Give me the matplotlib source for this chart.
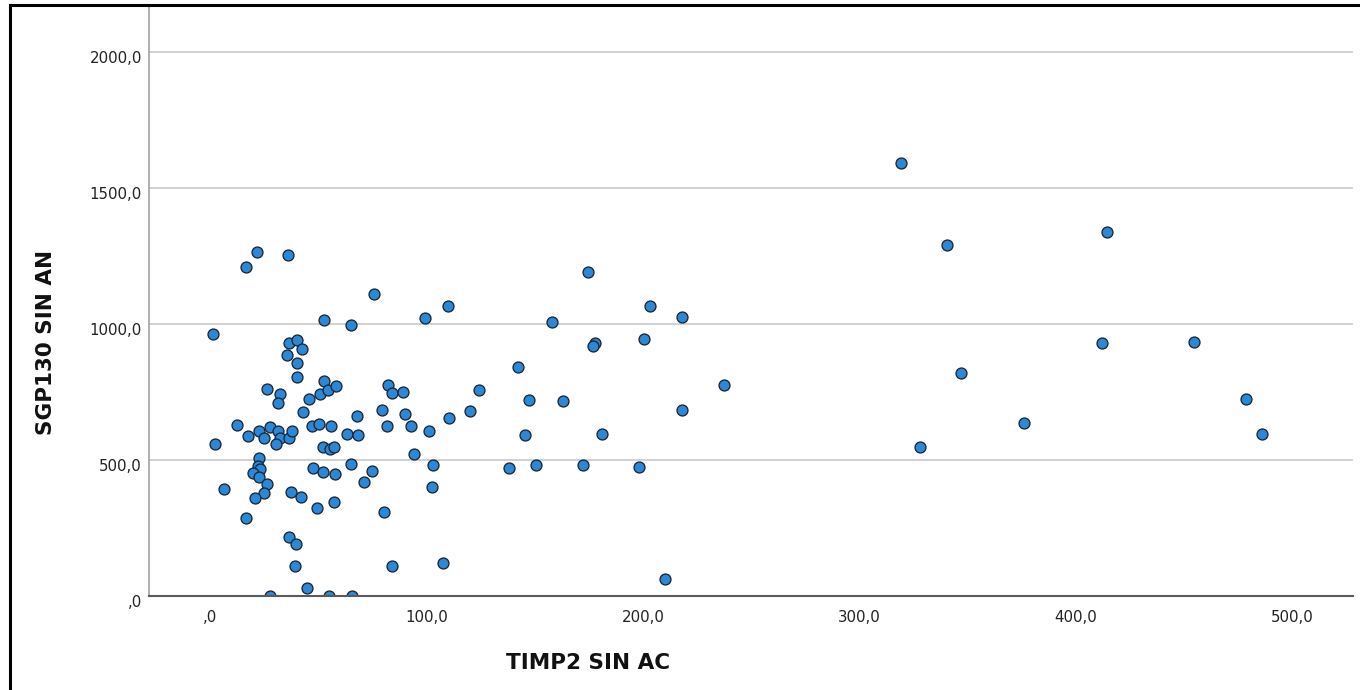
import matplotlib
matplotlib.use("Agg")
import matplotlib.pyplot as plt
import matplotlib.transforms as mtransforms
from matplotlib.lines import Line2D

# ---- data ----
timp2 = [16.5, 21.6, 35.9, 52.8, 1.5, 36.6, 40.0, 42.5, 35.7, 40.3,
         40.2, 52.8, 26.2, 32.3, 31.3, 45.6, 50.8, 42.8, 54.6, 58.1,
         12.6, 17.4, 22.6, 24.9, 27.7, 31.6, 32.3, 30.6, 36.3, 37.9,
         46.9, 50.5, 2.2, 52.2, 55.3, 57.1, 55.8,
         22.8, 22.2, 22.9, 20.0, 22.5, 26.2, 24.9, 20.6, 6.5, 37.6,
         42.1, 49.4, 16.6, 36.7, 39.7, 39.4, 44.6, 27.7, 55.0, 65.7,
         57.4, 71.3, 80.4, 102.4, 84.1, 107.8,
         75.8, 110.1, 99.3, 65.0, 82.4, 84.2, 89.0, 124.4, 79.4, 68.0,
         90.1, 81.9, 92.8, 63.4, 68.5, 101.0, 110.4, 120.1, 94.4, 65.1,
         47.7, 52.2, 57.9, 75.0, 103.1,
         174.7, 203.2, 218.0, 158.0, 200.6, 177.8, 176.8, 142.4, 237.6,
         147.5, 163.0, 218.0, 145.5, 180.9, 138.2, 150.6, 172.1, 198.2,
         210.4,
         319.1, 340.5, 414.5, 412.0, 454.5, 346.7, 478.8, 376.0, 485.8,
         328.2]
sgp130 = [1208, 1264, 1254, 1014, 963, 928, 941, 907, 885, 858,
          805, 789, 761, 743, 708, 723, 743, 676, 756, 773,
          627, 588, 607, 581, 622, 608, 581, 558, 580, 608,
          626, 633, 558, 548, 540, 547, 626,
          508, 478, 468, 451, 436, 413, 378, 362, 395, 384,
          363, 325, 287, 215, 192, 112, 31, 0, 0, 0,
          344, 420, 309, 399, 110, 120,
          1110, 1067, 1021, 995, 776, 745, 750, 757, 685, 662,
          669, 626, 626, 597, 593, 607, 653, 679, 523, 486,
          469, 457, 449, 458, 480,
          1189, 1064, 1025, 1006, 945, 931, 917, 842, 776,
          722, 718, 684, 591, 594, 471, 480, 480, 473,
          62,
          1593, 1289, 1338, 929, 933, 819, 724, 635, 596,
          549]
x_ticks = [0, 100, 200, 300, 400, 500]
y_ticks = [0, 500, 1000, 1500, 2000]
x_label = "TIMP2 SIN AC"
y_label = "SGP130 SIN AN"


def spss_fmt(v):
    s = f"{v:.1f}".replace(".", ",")
    if s.startswith("0,"):
        s = s[1:]
    return s


plt.rcParams['font.family'] = ['DejaVu Sans']

fig = plt.figure(figsize=(13.6, 6.9), dpi=100)
fig.patch.set_facecolor("white")
ax = fig.add_axes([149 / 1360, 1 - 596 / 690, (1353 - 149) / 1360, (596 - 5) / 690])

ax.scatter(timp2, sgp130, s=62, c="#2b88d6", edgecolors="#1a2633",
           linewidths=0.95, zorder=3)

ax.set_xlim(-28.2, 528)
ax.set_ylim(0, 2172)

ax.set_xticks(x_ticks)
ax.set_xticklabels([spss_fmt(v) for v in x_ticks])
ax.set_yticks(y_ticks)
ax.set_yticklabels([spss_fmt(v) for v in y_ticks])

ax.tick_params(axis="both", length=0, labelsize=10.8, labelcolor="#222222")
ax.tick_params(axis="x", pad=10)
ax.tick_params(axis="y", pad=5)
offset = mtransforms.ScaledTranslation(0, -5 / 100, fig.dpi_scale_trans)
for lbl in ax.get_yticklabels():
    lbl.set_transform(lbl.get_transform() + offset)

ax.yaxis.grid(True, color="#c9c9c9", linewidth=1.2, zorder=0)
ax.xaxis.grid(False)
ax.set_axisbelow(True)

for side in ("top", "right"):
    ax.spines[side].set_visible(False)
ax.spines["left"].set_color("#9a9a9a")
ax.spines["left"].set_linewidth(1.1)
ax.spines["bottom"].set_color("#5a5a5a")
ax.spines["bottom"].set_linewidth(1.5)
ax.spines["bottom"].set_zorder(4)

fig.text(588 / 1360, 1 - 663 / 690, x_label, ha="center", va="center",
         fontsize=15.5, fontweight="bold", color="#111111")
fig.text(46 / 1360, 1 - 342 / 690, y_label, ha="center", va="center",
         rotation=90, fontsize=15.5, fontweight="bold", color="#111111")

# outer frame (left and top edges visible in the reference)
fig.add_artist(Line2D([9.5 / 1360, 9.5 / 1360], [0, 1 - 4.5 / 690],
                      transform=fig.transFigure, color="black", linewidth=2.2))
fig.add_artist(Line2D([9.5 / 1360, 1], [1 - 4.5 / 690, 1 - 4.5 / 690],
                      transform=fig.transFigure, color="black", linewidth=2.2))

fig.savefig("out.png", dpi=100, facecolor="white")
